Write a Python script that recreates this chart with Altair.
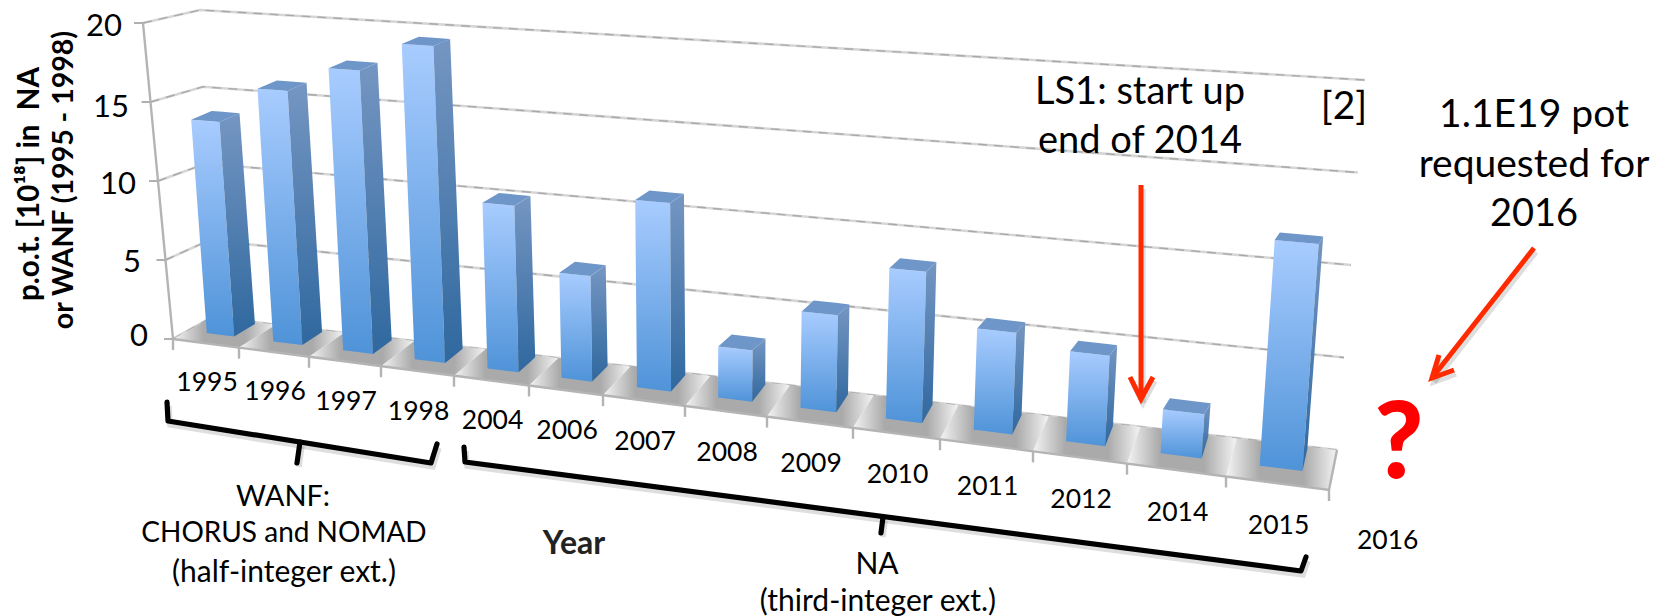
import altair as alt
import pandas as pd

# Annual protons on target, by run year
YEARS = ["1995", "1996", "1997", "1998", "2004", "2006", "2007", "2008",
         "2009", "2010", "2011", "2012", "2014", "2015"]
POT = [13.6, 15.9, 17.5, 19.3, 10.0, 6.25, 11.0, 2.95, 5.5, 8.45, 5.6, 4.9, 2.35, 11.9]
VALUE_TICKS = [0, 5, 10, 15, 20]
EXTRA_YEAR = "2016"

# Perspective box of the 3-D chart, as page positions of its corners
FBL, FBR = (173, 339), (1329, 490)
BBL, BBR = (212, 317), (1337, 450)
FTL, FTR = (143, 23), (1358, 98)
BTL, BTR = (200, 10), (1365, 80)
# The columns stand a little steeper than the side wall
BAR_FTL, BAR_BTL = (150, 23), (187, 10)
CELL_EDGES = [173, 239, 309, 381, 454, 529, 603, 685, 767, 853, 940, 1033, 1127, 1226, 1329]
U = [(x - FBL[0]) / (FBR[0] - FBL[0]) for x in CELL_EDGES]
W, H = 1668, 616
FONT = "Lato"


def lerp(a, b, t):
    return (a[0] + (b[0] - a[0]) * t, a[1] + (b[1] - a[1]) * t)


def project(u, v, d, ftl=FTL, btl=BTL):
    bottom = lerp(lerp(FBL, FBR, u), lerp(BBL, BBR, u), d)
    top = lerp(lerp(ftl, FTR, u), lerp(btl, BTR, u), d)
    return lerp(bottom, top, v / 20)


def bar_point(u, v, d):
    return project(u, v, d, BAR_FTL, BAR_BTL)


def bar_back_top(u, v):
    """Back corner of a column's cap; the cap flattens toward the right of the chart."""
    x = bar_point(u, v, D1)[0]
    y = bar_point(u, v, D0 + (D1 - D0) * (1 - 0.5 * u))[1]
    return (x, y)


def polygon_rows(points, key):
    """Turn a convex polygon into x / y / y2 rows for an area mark."""
    rows = []
    n = len(points)
    for x in sorted({p[0] for p in points}):
        hits = []
        for i in range(n):
            a, b = points[i], points[(i + 1) % n]
            lo, hi = min(a[0], b[0]), max(a[0], b[0])
            if lo <= x <= hi:
                if a[0] == b[0]:
                    hits += [a[1], b[1]]
                else:
                    hits.append(a[1] + (b[1] - a[1]) * (x - a[0]) / (b[0] - a[0]))
        rows.append({"id": key, "x": x, "y": min(hits), "y2": max(hits)})
    return rows


front, side, top, floor = [], [], [], []
D0, D1, HALF = 0.38, 0.93, 0.21
for i, value in enumerate(POT):
    mid = (U[i] + U[i + 1]) / 2
    half = HALF * (U[i + 1] - U[i])
    ul, ur = mid - half, mid + half
    front += polygon_rows([bar_point(ul, value, D0), bar_point(ur, value, D0),
                           bar_point(ur, 0, D0), bar_point(ul, 0, D0)], i)
    side += polygon_rows([bar_point(ur, value, D0), bar_back_top(ur, value),
                          bar_point(ur, 0, D1), bar_point(ur, 0, D0)], i)
    top += polygon_rows([bar_point(ul, value, D0), bar_point(ur, value, D0),
                         bar_back_top(ur, value), bar_back_top(ul, value)], i)
    floor += polygon_rows([project(U[i], 0, 0), project(U[i + 1], 0, 0),
                           project(U[i + 1], 0, 1), project(U[i], 0, 1)], i)

grid, edges, axis_ticks = [], [], []
for v in VALUE_TICKS:
    for s, p in enumerate([project(0, v, 0), project(0, v, 1), project(1, v, 1)]):
        grid.append({"id": v, "seq": s, "x": p[0], "y": p[1]})
    p = project(0, v, 0)
    axis_ticks += [{"id": v, "seq": 0, "x": p[0] - 9, "y": p[1]},
                   {"id": v, "seq": 1, "x": p[0], "y": p[1]}]
for s, v in enumerate(VALUE_TICKS):
    p = project(0, v, 0)
    edges.append({"id": "axis", "seq": s, "x": p[0], "y": p[1]})
for s, (u, d) in enumerate([(0, 0), (1, 0), (1, 1)]):
    p = project(u, 0, d)
    edges.append({"id": "front", "seq": s, "x": p[0], "y": p[1]})
for k, u in enumerate(U):
    p = project(u, 0, 0)
    edges += [{"id": f"t{k}", "seq": 0, "x": p[0], "y": p[1]},
              {"id": f"t{k}", "seq": 1, "x": p[0], "y": p[1] + 11}]

# Bracket and arrow callouts
BRACKETS = {
    "wanf": [(167, 402), (168, 421), (431, 463), (437, 444)],
    "wanf_stem": [(300, 442), (297, 463)],
    "na": [(464, 447), (465, 462), (1301, 571), (1306, 557)],
    "na_stem": [(883, 517), (881, 533)],
}
ARROWS = {
    "ls1": [(1141, 185), (1141, 399)],
    "ls1_head": [(1130, 377), (1141, 399), (1153, 377)],
    "req": [(1534, 248), (1432, 378)],
    "req_head": [(1439, 355), (1432, 378), (1454, 370)],
}


def line_rows(groups):
    return [{"id": k, "seq": s, "x": p[0], "y": p[1]}
            for k, pts in groups.items() for s, p in enumerate(pts)]


X = alt.X("x:Q", scale=alt.Scale(domain=[0, W], range=[0, W]), axis=None)
Y = alt.Y("y:Q", scale=alt.Scale(domain=[0, H], range=[0, H]), axis=None)


def gradient(c0, c1):
    return alt.Gradient(gradient="linear", x1=0, y1=0, x2=0, y2=1,
                        stops=[alt.GradientStop(color=c0, offset=0),
                               alt.GradientStop(color=c1, offset=1)])


def area(rows, fill):
    return alt.Chart(pd.DataFrame(rows)).mark_area(color=fill).encode(
        x=X, y=Y, y2="y2:Q", detail="id:N")


def lines(rows, **style):
    return alt.Chart(pd.DataFrame(rows)).mark_line(**style).encode(
        x=X, y=Y, detail="id:N", order="seq:Q")


def label(text, x, y, size, **style):
    data = pd.DataFrame([{"x": x, "y": y, "t": text}])
    style.setdefault("color", "#000000")
    return alt.Chart(data).mark_text(font=FONT, fontSize=size, baseline="middle",
                                     align=style.pop("align", "center"), **style).encode(
        x=X, y=Y, text="t:N")


floor_fill = alt.Gradient(
    gradient="linear", x1=0, y1=0, x2=1, y2=0,
    stops=[alt.GradientStop(color="#f4f4f4", offset=0),
           alt.GradientStop(color="#aaaaaa", offset=0.3),
           alt.GradientStop(color="#aaaaaa", offset=0.7),
           alt.GradientStop(color="#f4f4f4", offset=1)])

layers = [
    lines(grid, color="#d6d6d6", strokeWidth=2.6),
    lines(grid, color="#a9a9a9", strokeWidth=1.4, strokeDash=[9, 7]),
    area(floor, floor_fill),
    lines(edges, color="#b4b4b4", strokeWidth=2.4),
    lines(axis_ticks, color="#b0b0b0", strokeWidth=2),
    area(front, gradient("#a8ccff", "#4f93d8")),
    area(side, gradient("#7596c2", "#2f689f")),
    area(top, "#6f96c9"),
]

# Soft shadows below the callouts
shadow = [{**r, "x": r["x"] + 2, "y": r["y"] + 4} for r in line_rows({**BRACKETS, **ARROWS})]
layers.append(lines(shadow, color="#000000", opacity=0.13, strokeWidth=5.5))
layers.append(lines(line_rows(BRACKETS), color="#000000", strokeWidth=5.2, strokeCap="round", strokeJoin="round"))
layers.append(lines(line_rows(ARROWS), color="#ff2a00", strokeWidth=5))

for v, x, y in zip(VALUE_TICKS, [139, 132, 118, 111, 104], [337, 263, 185, 108, 27]):
    layers.append(label(str(v), x, y, 31))

for i, year in enumerate(YEARS + [EXTRA_YEAR]):
    if i < len(YEARS):
        u = (U[i] + U[i + 1]) / 2
    else:
        u = U[-1] + (U[-1] - U[-2]) * 0.56
    p = project(u, 0, 0)
    layers.append(label(year, p[0] + 1, p[1] + 40 + 3 * u, 26.5))

layers += [
    label("p.o.t. [10¹⁸] in\u00a0\u00a0NA", 30, 184, 29.5, fontWeight="bold", angle=270),
    label("or WANF (1995 - 1998)", 64, 180, 28.5, fontWeight="bold", angle=270),
    label("Year", 574, 544, 32, fontWeight="bold", color="#222222"),
    label("WANF:", 283, 497, 29),
    label("CHORUS and NOMAD", 284, 534, 28),
    label("(half-integer ext.)", 284, 573, 30),
    label("NA", 877, 565, 30),
    label("(third-integer ext.)", 878, 602, 30),
    label("LS1: start up", 1140, 93, 38),
    label("end of 2014", 1140, 142, 38),
    label("[2]", 1344, 107, 39),
    label("1.1E19 pot", 1534, 115, 39),
    label("requested for", 1534, 165, 39),
    label("2016", 1534, 215, 38),
    label("?", 1399, 446, 106, fontWeight=900, color="#ff0000"),
]

chart = alt.layer(*layers).properties(
    width=W, height=H, padding=0, autosize=alt.AutoSizeParams(type="none")
).configure_view(stroke=None)

chart.save("out.html", embed_options={"renderer": "svg", "actions": False})
